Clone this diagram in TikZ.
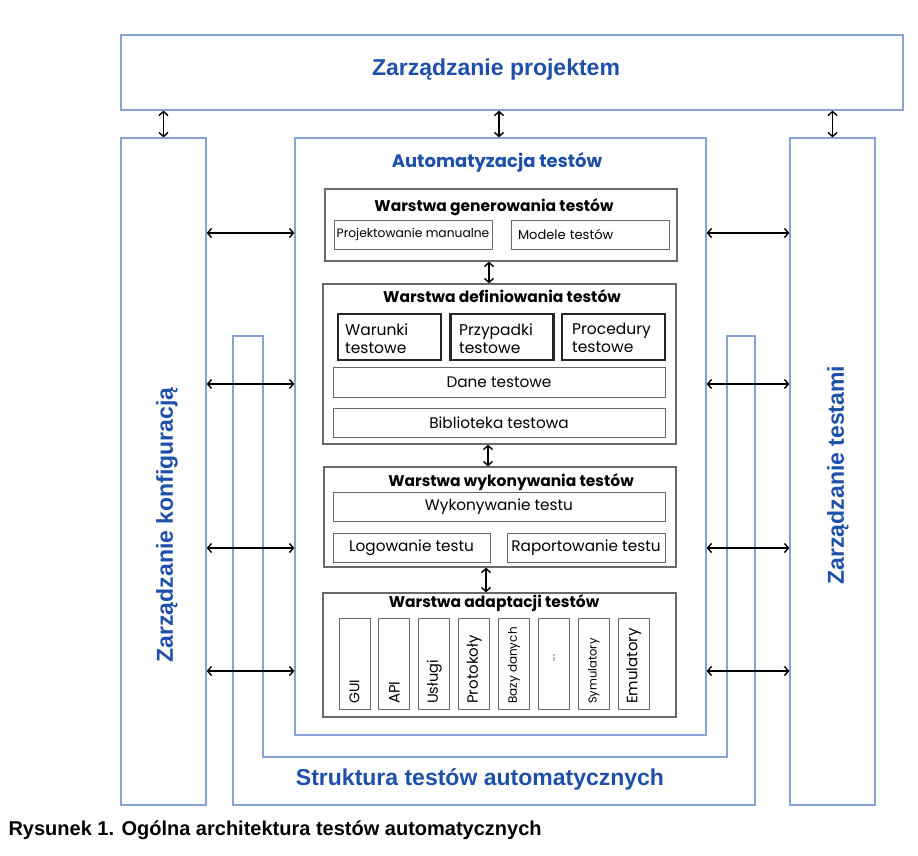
\documentclass[tikz,border=0pt]{standalone}
\usepackage{fontspec}
\setmainfont{Liberation Sans}
\newfontfamily\pop{Poppins}
\usetikzlibrary{arrows.meta}
\definecolor{ramka}{RGB}{135,162,215}
\definecolor{napis}{RGB}{30,80,170}
\definecolor{szary}{RGB}{105,105,105}
\begin{document}
\begin{tikzpicture}[x=1pt, y=-1pt,
  blok/.style={draw=ramka, line width=1.2pt, inner sep=0pt},
  tytul/.style={text=napis, font=\fontsize{23}{27}\selectfont\bfseries},
  warstwa/.style={draw=szary, line width=1.2pt, inner sep=0pt},
  naglowek/.style={font=\pop\fontsize{15.5}{18}\selectfont\bfseries},
  pole/.style={draw=szary, line width=1pt, inner sep=0pt, minimum height=29pt, font=\pop\fontsize{15.3}{17}\selectfont},
  gruby/.style={draw=black!85, line width=2.4pt, minimum width=103pt, minimum height=46pt},
  opis/.style={anchor=north west, align=left, inner sep=0pt, font=\pop\fontsize{15.5}{18}\selectfont},
  pion/.style={draw=szary, line width=1pt, inner sep=0pt, minimum width=31pt, minimum height=91pt},
  pionopis/.style={rotate=90, anchor=west, inner sep=0pt},
  strz/.style={{Straight Barb[length=4pt,width=9pt]}-{Straight Barb[length=4pt,width=9pt]}, line width=1.4pt}]
\fill[white] (0,0) rectangle (918,855);
\useasboundingbox (0,0) rectangle (918,855);

% bloki zewnetrzne
\node (proj) at (512,72.5) [blok, minimum width=782pt, minimum height=75pt] {};
\node (projT) at (496,70) [tytul] {Zarządzanie projektem};
\node (konf) at (163.5,471.5) [blok, minimum width=85pt, minimum height=667pt] {};
\node (konfT) at (167,525) [tytul, rotate=90] {Zarządzanie konfiguracją};
\node (test) at (832.5,471.5) [blok, minimum width=85pt, minimum height=667pt] {};
\node (testT) at (838,475) [tytul, rotate=90] {Zarządzanie testami};
\draw[ramka, line width=1.2pt] (233,336) -- (263,336) -- (263,757) -- (727,757) -- (727,336)
  -- (755,336) -- (755,805) -- (233,805) -- cycle;
\node (strT) at (480,779) [tytul] {Struktura testów automatycznych};
\node (auto) at (500.5,436.5) [blok, fill=white, minimum width=411pt, minimum height=597pt] {};
\node (autoT) at (497,162) [text=napis, font=\pop\fontsize{18}{21}\selectfont\bfseries] {Automatyzacja testów};

% warstwa generowania
\node (l1) at (501,225) [warstwa, minimum width=352pt, minimum height=72pt] {};
\node (l1T) at (494,207) [naglowek] {Warstwa generowania testów};
\node (pm) at (413,234.5) [pole, minimum width=158pt, font=\pop\fontsize{12.3}{14}\selectfont] {Projektowanie manualne};
\node (mt) at (590,234.5) [pole, minimum width=158pt, text width=144pt, align=left, font=\pop\fontsize{13}{15}\selectfont] {Modele testów};

% warstwa definiowania
\node (l2) at (499.5,364) [warstwa, minimum width=353pt, minimum height=160pt] {};
\node (l2T) at (502,296) [naglowek] {Warstwa definiowania testów};
\node (war) at (389.5,337) [gruby] {};
\node (warT) at (345,323) [opis] {Warunki\\testowe};
\node (prz) at (502,337) [gruby] {};
\node (przT) at (459,323) [opis] {Przypadki\\testowe};
\node (pro) at (613.5,337) [gruby] {};
\node (proT) at (572,323) [opis] {Procedury\\testowe};
\node (dane) at (499,382) [pole, minimum width=332pt, minimum height=30pt] {Dane testowe};
\node (bib) at (499,422.5) [pole, minimum width=332pt] {Biblioteka testowa};

% warstwa wykonywania
\node (l3) at (500,517) [warstwa, minimum width=352pt, minimum height=100pt] {};
\node (l3T) at (511,482) [naglowek] {Warstwa wykonywania testów};
\node (wyk) at (499,506.5) [pole, minimum width=332pt] {Wykonywanie testu};
\node (log) at (411.5,547.5) [pole, minimum width=157pt] {Logowanie testu};
\node (rap) at (586,547.5) [pole, minimum width=158pt] {Raportowanie testu};

% warstwa adaptacji
\node (l4) at (499.5,655) [warstwa, minimum width=353pt, minimum height=124pt] {};
\node (l4T) at (494,603) [naglowek] {Warstwa adaptacji testów};
\foreach \i/\t/\r in {0/GUI/14, 1/API/15, 2/Usługi/14.5, 3/Protokoły/15, 4/Bazy danych/12, 6/Symulatory/11.5, 7/Emulatory/15} {
  \node (a\i) at (354.5+39.9*\i,663.5) [pion] {};
  \node (a\i T) at (354.5+39.9*\i,704) [pionopis, font=\pop\fontsize{\r}{16}\selectfont] {\t};
}
\node (a5) at (354.5+39.9*5,663.5) [pion] {};
\node (a5T) at (354.5+39.9*5,658) [rotate=90, font=\pop\fontsize{10}{12}\selectfont] {...};

% strzalki
\draw[strz] (proj.south -| konf) -- (konf.north);
\draw[strz] (proj.south -| 499,0) -- (auto.north -| 499,0);
\draw[strz] (proj.south -| test) -- (test.north);
\foreach \y in {233,384,548,671} {
  \draw[strz] (konf.east |- 0,\y) -- (auto.west |- 0,\y);
  \draw[strz] (auto.east |- 0,\y) -- (test.west |- 0,\y);
}
\draw[strz] (l1.south -| 489,0) -- (l2.north -| 489,0);
\draw[strz] (l2.south -| 488,0) -- (l3.north -| 488,0);
\draw[strz] (l3.south -| 486,0) -- (l4.north -| 486,0);

\node (pod) at (5,830) [anchor=west, font=\fontsize{20}{24}\selectfont\bfseries] {Rysunek 1. Ogólna architektura testów automatycznych};
\end{tikzpicture}
\end{document}
